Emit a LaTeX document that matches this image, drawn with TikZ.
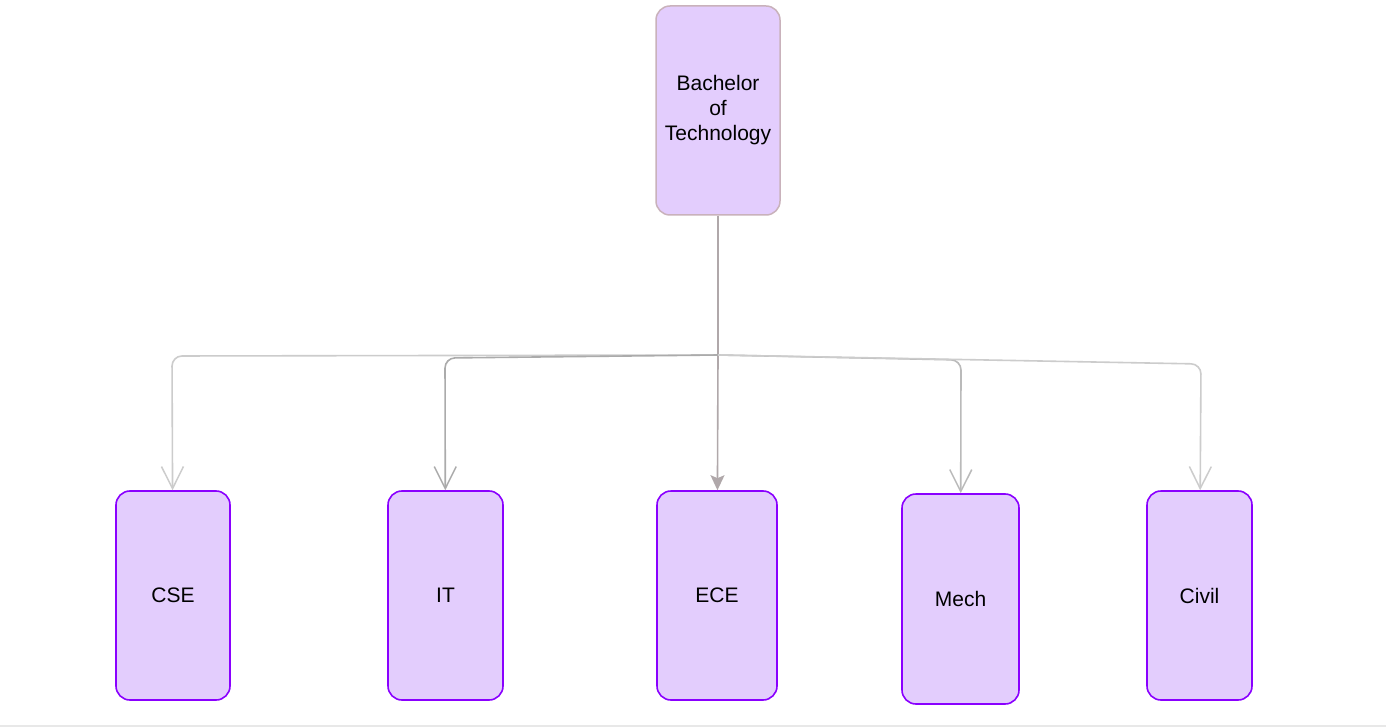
\documentclass[tikz,border=0pt]{standalone}
\usepackage{fontspec}
\setmainfont{Liberation Sans}
\usetikzlibrary{arrows.meta}

\definecolor{lilac}{RGB}{227,205,253}
\definecolor{violetline}{RGB}{138,0,255}
\definecolor{rootline}{RGB}{201,178,187}
\definecolor{stemgray}{RGB}{176,168,170}

\begin{document}
\begin{tikzpicture}[x=1pt,y=-1pt,
	box/.style={rectangle, rounded corners=14pt, fill=lilac, minimum width=#1, minimum height=209pt, inner sep=0pt, align=center, font=\fontsize{21}{25}\selectfont},
	dept/.style={box=#1, draw=violetline, line width=1.6pt},
	link/.style={line width=1.6pt, rounded corners=10pt, -{Straight Barb[length=22pt,width=22pt,line width=1.5pt]}}]

	% background
	\fill[white] (0,0) rectangle (1386,727);
	\fill[black!9] (0,725) rectangle (1386,727);

	\path (718,110.5) node[box=124pt, draw=rootline, line width=1.5pt] (root) {Bachelor\\of\\Technology}
		(173,595.5) node[dept=114pt] (cse) {CSE}
		(445.5,595.5) node[dept=115pt] (it) {IT}
		(717,595.5) node[dept=120pt] (ece) {ECE}
		(960.5,599) node[dept=117pt, minimum height=210pt] (mech) {Mech}
		(1199.5,595.5) node[dept=105pt] (civil) {Civil};

	% branch points
	\coordinate (split) at (718,355);
	\coordinate (bcse) at (172,356);
	\coordinate (bit) at (445,358);
	\coordinate (bmech) at (961,360);
	\coordinate (bcivil) at (1201,364);

	\draw[stemgray, line width=1.6pt] (root) -- (split);
	\draw[stemgray, line width=1.6pt, -{Stealth[length=15pt,width=14pt,inset=3pt]}] (split) -- (ece);
	\draw[link, black!20] (split) -- (bcse) -- (cse);
	\draw[link, black!33] (split) -- (bit) -- (it);
	\draw[link, black!27] (split) -- (bmech) -- (mech);
	\draw[link, black!20] (split) -- (bcivil) -- (civil);
\end{tikzpicture}
\end{document}
